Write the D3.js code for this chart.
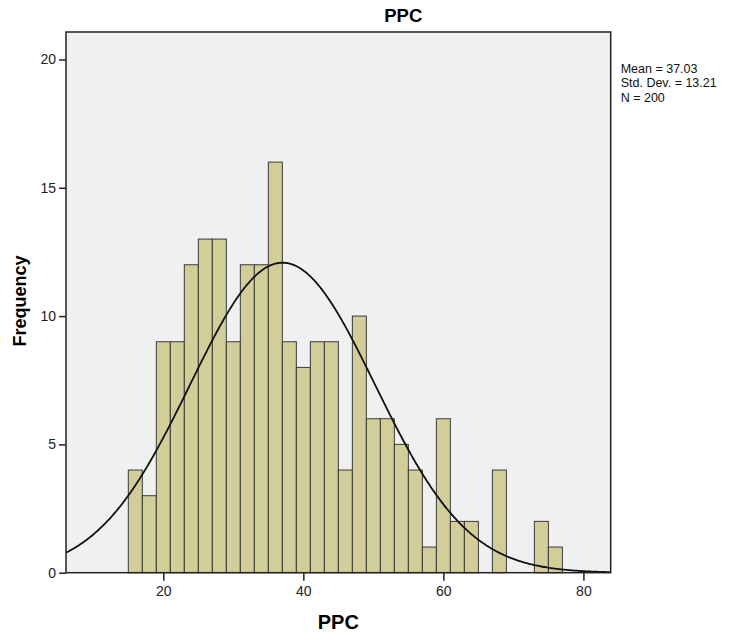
<!DOCTYPE html>
<html>
<head>
<meta charset="utf-8">
<script src="https://cdn.jsdelivr.net/npm/d3@7"></script>
<style>
  body { margin: 0; background: #fff; }
  text { font-family: "Liberation Sans", Arial, sans-serif; }
</style>
</head>
<body>
<div id="vis_hist"></div>
<script>
// histogram data (bins of width 2)
var binStarts = [15, 17, 19, 21, 23, 25, 27, 29, 31, 33, 35, 37, 39, 41, 43, 45,
                 47, 49, 51, 53, 55, 57, 59, 61, 63, 65, 67, 69, 71, 73, 75];
var counts    = [4, 3, 9, 9, 12, 13, 13, 9, 12, 12, 16, 9, 8, 9, 9, 4,
                 10, 6, 6, 5, 4, 1, 6, 2, 2, 0, 4, 0, 0, 2, 1];
var binWidth = 2;

// summary stats printed beside the chart
var statLabels = ["Mean = 37.03", "Std. Dev. = 13.21", "N = 200"];
var mean = 37.03, sd = 13.21, n = 200;

var xTicks = [20, 40, 60, 80];
var yTicks = [0, 5, 10, 15, 20];

function plotHist(data) {
    // set the dimensions and margins of the graph
    var margin = {top: 32, right: 119.3, bottom: 62.3, left: 66},
    width = 730 - margin.left - margin.right,
    height = 635 - margin.top - margin.bottom;

    var svg = d3.select("#vis_hist")
    .append("svg")
    .attr("width", 730)
    .attr("height", 635)
    .append("g")
    .attr("transform", "translate(" + margin.left + "," + margin.top + ")");

    var x = d3.scaleLinear()
            .domain([6.1, 83.9])
            .range([0, width]);
    var y = d3.scaleLinear()
            .domain([0, 21.07])
            .range([height, 0]);

    // plot background
    svg.append("rect")
    .attr("width", width)
    .attr("height", height)
    .attr("fill", "#f0f0f0");

    // bars
    svg.selectAll(".bar")
    .data(data.filter(function(d) { return d.count > 0; }))
    .enter().append("rect")
    .attr("class", "bar")
    .attr("x", function(d) { return x(d.start); })
    .attr("width", function(d) { return x(d.start + binWidth) - x(d.start); })
    .attr("y", function(d) { return y(d.count); })
    .attr("height", function(d) { return y(0) - y(d.count); })
    .attr("fill", "#d3ce97")
    .attr("stroke", "#3a3a3a")
    .attr("stroke-width", 1);

    // normal curve from the printed mean / sd / N
    var xs = d3.range(0, 401).map(function(i) { return 6.1 + i * (83.9 - 6.1) / 400; });
    var curve = xs.map(function(v) {
        var z = (v - mean) / sd;
        return [v, n * binWidth * Math.exp(-0.5 * z * z) / (sd * Math.sqrt(2 * Math.PI))];
    });
    svg.append("clipPath").attr("id", "clip")
    .append("rect").attr("width", width).attr("height", height);
    svg.append("path")
    .datum(curve)
    .attr("clip-path", "url(#clip)")
    .attr("fill", "none")
    .attr("stroke", "#111")
    .attr("stroke-width", 1.8)
    .attr("d", d3.line()
        .x(function(d) { return x(d[0]); })
        .y(function(d) { return y(d[1]); })
    );

    // axes
    var xAxis = svg.append("g")
    .attr("transform", "translate(0," + height + ")")
    .call(d3.axisBottom(x).tickValues(xTicks).tickSize(8).tickPadding(5).tickSizeOuter(0));
    var yAxis = svg.append("g")
    .call(d3.axisLeft(y).tickValues(yTicks).tickSize(7).tickPadding(3).tickSizeOuter(0));
    [xAxis, yAxis].forEach(function(a) {
        a.select(".domain").remove();
        a.selectAll("line").attr("stroke", "#222").attr("stroke-width", 1.5);
        a.selectAll("text").attr("fill", "#222").style("font-size", "14px")
         .style("font-family", "'Liberation Sans', Arial, sans-serif");
    });

    // frame
    svg.append("rect")
    .attr("width", width)
    .attr("height", height)
    .attr("fill", "none")
    .attr("stroke", "#222")
    .attr("stroke-width", 1.5);

    // titles
    svg.append("text")
    .attr("x", 403.3 - margin.left)
    .attr("y", 21.5 - margin.top)
    .attr("text-anchor", "middle")
    .style("font-size", "18.5px")
    .style("font-weight", "bold")
    .text("PPC");

    svg.append("text")
    .attr("x", 338.3 - margin.left)
    .attr("y", 629.3 - margin.top)
    .attr("text-anchor", "middle")
    .style("font-size", "20px")
    .style("font-weight", "bold")
    .text("PPC");

    svg.append("text")
    .attr("transform", "translate(" + (25.5 - margin.left) + "," + (301 - margin.top) + ") rotate(-90)")
    .attr("text-anchor", "middle")
    .style("font-size", "18px")
    .style("font-weight", "bold")
    .text("Frequency");

    // stats box
    svg.selectAll(".stat")
    .data(statLabels)
    .enter().append("text")
    .attr("class", "stat")
    .attr("x", width + 10)
    .attr("y", function(d, i) { return 72.5 - margin.top + i * 14.5; })
    .style("font-size", "12.5px")
    .attr("fill", "#111")
    .text(function(d) { return d; });
}

var histData = binStarts.map(function(s, i) { return {start: s, count: counts[i]}; });
plotHist(histData);
</script>
</body>
</html>
